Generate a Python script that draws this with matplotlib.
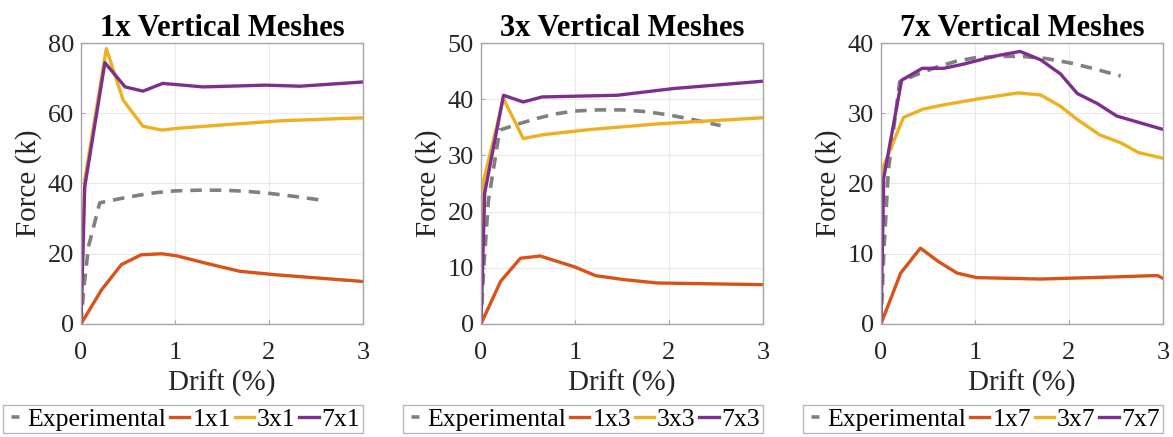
import matplotlib
matplotlib.use("Agg")
import matplotlib.pyplot as plt

plt.rcParams["font.family"] = ["Liberation Serif", "DejaVu Serif"]

# ── data: drift (%) vs force (k) ────────────────────────────────────────────
exp_x = [0, 0.03, 0.08, 0.2, 0.4, 0.6, 0.8, 1.0, 1.25, 1.5, 1.75, 2.0, 2.25, 2.55]
exp_y = [0, 10, 22, 34.5, 35.6, 36.6, 37.4, 37.9, 38.1, 38.1, 37.8, 37.2, 36.4, 35.3]

# 1x vertical meshes
m1x1_x = [0, 0.22, 0.43, 0.64, 0.86, 1.02, 1.33, 1.69, 2.08, 3.0]
m1x1_y = [0, 9.75, 16.9, 19.7, 20.0, 19.4, 17.3, 15.0, 14.0, 12.1]
m3x1_x = [0, 0.04, 0.27, 0.45, 0.66, 0.86, 1.02, 1.62, 2.15, 3.0]
m3x1_y = [0, 41, 78.4, 63.7, 56.3, 55.2, 55.7, 56.9, 57.9, 58.7]
m7x1_x = [0, 0.04, 0.255, 0.47, 0.66, 0.87, 1.3, 1.97, 2.33, 3.0]
m7x1_y = [0, 39, 74.4, 67.5, 66.3, 68.5, 67.5, 68.0, 67.7, 68.9]

# 3x vertical meshes
m1x3_x = [0, 0.21, 0.42, 0.63, 0.99, 1.22, 1.52, 1.87, 3.0]
m1x3_y = [0, 7.6, 11.7, 12.1, 10.2, 8.6, 7.9, 7.3, 7.0]
m3x3_x = [0, 0.03, 0.24, 0.45, 0.67, 1.16, 1.87, 3.0]
m3x3_y = [0, 25.6, 40.1, 33.0, 33.7, 34.6, 35.6, 36.7]
m7x3_x = [0, 0.04, 0.24, 0.45, 0.65, 1.45, 2.05, 3.0]
m7x3_y = [0, 23.3, 40.7, 39.5, 40.4, 40.7, 41.9, 43.2]

# 7x vertical meshes
m1x7_x = [0, 0.21, 0.42, 0.61, 0.81, 1.02, 1.7, 2.48, 2.94, 3.0]
m1x7_y = [0, 7.25, 10.8, 8.9, 7.25, 6.6, 6.4, 6.7, 6.9, 6.5]
m3x7_x = [0, 0.01, 0.24, 0.45, 0.67, 1.06, 1.46, 1.7, 1.91, 2.09, 2.33, 2.55, 2.74, 3.0]
m3x7_y = [0, 21.9, 29.4, 30.6, 31.2, 32.1, 32.9, 32.6, 31.0, 29.1, 26.9, 25.8, 24.4, 23.6]
m7x7_x = [0, 0.03, 0.22, 0.44, 0.67, 0.88, 1.2, 1.48, 1.7, 1.91, 2.09, 2.3, 2.51, 3.0]
m7x7_y = [0, 20.8, 34.7, 36.4, 36.4, 37.0, 38.1, 38.8, 37.6, 35.6, 32.8, 31.4, 29.6, 27.7]

ORANGE = "#D95319"
YELLOW = "#EDB120"
PURPLE = "#7E2F8E"
GRAY = "#808080"
TEXT = "#262626"
BOX = "#a6a6a6"

PANELI = [
    ("1x Vertical Meshes", "1", 80, [0, 20, 40, 60, 80],
     [(m1x1_x, m1x1_y), (m3x1_x, m3x1_y), (m7x1_x, m7x1_y)], 0.069),
    ("3x Vertical Meshes", "3", 50, [0, 10, 20, 30, 40, 50],
     [(m1x3_x, m1x3_y), (m3x3_x, m3x3_y), (m7x3_x, m7x3_y)], 0.410),
    ("7x Vertical Meshes", "7", 40, [0, 10, 20, 30, 40],
     [(m1x7_x, m1x7_y), (m3x7_x, m3x7_y), (m7x7_x, m7x7_y)], 0.751),
]
AX_W, AX_B, AX_H = 0.2404, 0.2586, 0.643

fig = plt.figure(figsize=(11.73, 4.37), dpi=100)

for naslov, n, ymax, yticks, serije, left in PANELI:
    ax = fig.add_axes([left, AX_B, AX_W, AX_H])
    ax.plot(exp_x, exp_y, color=GRAY, linestyle=(0, (3.2, 2.2)), linewidth=2.6,
            label="Experimental")
    for (xs, ys), barva, m in zip(serije, [ORANGE, YELLOW, PURPLE], ["1", "3", "7"]):
        ax.plot(xs, ys, color=barva, linewidth=2.4, label=f"{m}x{n}")
    ax.set_xlim(0, 3)
    ax.set_ylim(0, ymax)
    ax.set_xticks([0, 1, 2, 3])
    ax.set_yticks(yticks)
    ax.grid(True, color="#e8e8e8", linewidth=0.8)
    ax.set_axisbelow(True)
    for s in ax.spines.values():
        s.set_color(BOX)
        s.set_linewidth(1.0)
    ax.tick_params(direction="in", length=3, width=0.8, color=BOX,
                   labelsize=19, labelcolor=TEXT)
    ax.tick_params(axis="x", pad=13)
    ax.tick_params(axis="y", pad=5)
    ax.set_xlabel("Drift (%)", fontsize=21, color=TEXT, labelpad=4)
    ax.set_ylabel("Force (k)", fontsize=21, color=TEXT, labelpad=4)
    ax.set_title(naslov, fontsize=22, fontweight="bold", pad=4)

    # legend under each panel, right edge aligned with the axes
    leg = ax.legend(loc="upper right", ncol=4, frameon=True, fancybox=False,
                    bbox_to_anchor=(left + AX_W, 1 - 405 / 437),
                    bbox_transform=fig.transFigure, borderaxespad=0,
                    fontsize=18.5, handlelength=0.75, handletextpad=0.12,
                    columnspacing=0.14, borderpad=0.1, labelspacing=0.1)
    leg.get_frame().set_edgecolor(BOX)
    leg.get_frame().set_linewidth(1.0)
    # a single short dash for the experimental entry
    leg.legend_handles[0].set_linestyle((10.4, (2.2, 10)))

fig.savefig("out.png", dpi=100)
